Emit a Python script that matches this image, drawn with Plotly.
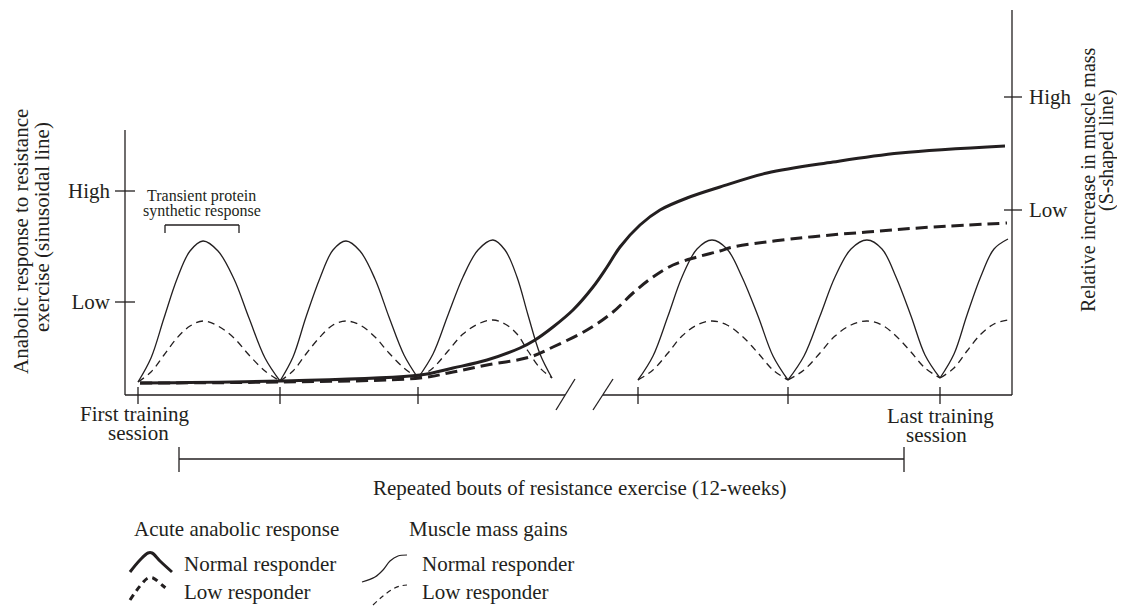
import plotly.graph_objects as go

# ---------------- data ----------------
# acute anabolic (sinusoidal) response; None separates the bouts
acute_x = [13, 26, 39, 52, 65, 78, 93, 109, 124, 140, 155, None,
           155, 168, 181, 195, 208, 221, 235, 250, 264, 279, 293, None,
           293, 308, 323, 338, 353, 368, 380, 392, 403, 415, 427, None,
           513, 528, 543, 557, 572, 587, 602, 617, 633, 648, 663, None,
           663, 679, 695, 710, 726, 742, 757, 771, 786, 800, 815, None,
           815, 829, 842, 856, 869, 883]
acute_normal = [13, 37, 77, 116, 144, 154, 144, 116, 77, 37, 14, None,
                14, 38, 78, 117, 145, 154, 144, 116, 78, 40, 17, None,
                17, 41, 80, 118, 145, 155, 145, 118, 80, 41, 17, None,
                15, 39, 79, 118, 146, 155, 146, 118, 79, 39, 15, None,
                15, 39, 79, 118, 146, 155, 146, 118, 79, 40, 17, None,
                17, 41, 80, 119, 146, 156]
acute_low = [13, 23, 40, 57, 69, 74, 69, 57, 40, 24, 14, None,
             14, 24, 41, 58, 70, 74, 70, 58, 42, 27, 17, None,
             17, 27, 44, 61, 71, 75, 71, 61, 44, 27, 17, None,
             15, 25, 42, 59, 70, 74, 70, 59, 42, 25, 15, None,
             15, 25, 42, 59, 70, 74, 70, 59, 43, 27, 17, None,
             17, 27, 44, 61, 71, 75]

# muscle mass gains (S-shaped)
mass_normal_x = [15, 155, 295, 328, 362, 395, 410, 428, 448, 468, 482, 495,
                 515, 535, 562, 595, 642, 708, 775, 880]
mass_normal_y = [12, 14, 20, 27, 35, 47, 55, 68, 85, 108, 128, 148,
                 170, 185, 197, 208, 222, 233, 242, 249]
mass_low_x = [15, 155, 295, 328, 362, 405, 428, 462, 488, 508, 528, 548,
              572, 595, 608, 675, 742, 808, 882]
mass_low_y = [12, 13, 17, 23, 30, 38, 48, 65, 83, 102, 118, 130,
              138, 144, 148, 157, 163, 168, 172]

session_x = [13, 155, 293, 513, 663, 815]
left_ticks = [204, 93]
left_labels = ["High", "Low"]
right_ticks = [298, 185]
right_labels = ["High", "Low"]

# legend glyphs (local units)
leg_bump_x = [10, 20, 28, 32, 40, 52]
leg_bump_y = [35, 47, 54, 54, 46, 35]
leg_dbump_x = [10, 20, 28, 33, 42, 48]
leg_dbump_y = [7, 21, 29, 29, 22, 17]
leg_s_x = [242, 255, 263, 270, 278, 287]
leg_s_y = [25, 30, 37, 46, 51, 52]
leg_ds_x = [253, 263, 273, 280, 287]
leg_ds_y = [2, 11, 18, 21, 22]

# ---------------- layout helpers ----------------
OX, OY = 8, 8            # page body margin of the html page
W, H = 1125 - OX, 607 - OY
PL, PR, PT, PB = 125, 1012, 10, 395
INK = "#231f20"
FONT = "Liberation Serif"


def fx(p):
    return (p - OX) / W


def fy(p):
    return 1 - (p - OY) / H


def dx(v):  # data x -> pixel
    return PL + v


fig = go.Figure()

thin = dict(color=INK, width=1.3, shape="spline", smoothing=1.0)
thick = dict(color=INK, width=3, shape="spline", smoothing=1.0)

fig.add_trace(go.Scatter(x=acute_x, y=acute_normal, mode="lines", line=thin,
                         xaxis="x", yaxis="y", hoverinfo="skip"))
fig.add_trace(go.Scatter(x=acute_x, y=acute_low, mode="lines",
                         line=dict(thin, dash="7px,5px"),
                         xaxis="x", yaxis="y", hoverinfo="skip"))
fig.add_trace(go.Scatter(x=mass_normal_x, y=mass_normal_y, mode="lines", line=thick,
                         xaxis="x", yaxis="y2", hoverinfo="skip"))
fig.add_trace(go.Scatter(x=mass_low_x, y=mass_low_y, mode="lines",
                         line=dict(thick, dash="12px,6px"),
                         xaxis="x", yaxis="y2", hoverinfo="skip"))

# legend glyphs
fig.add_trace(go.Scatter(x=leg_bump_x, y=leg_bump_y, mode="lines",
                         line=dict(color=INK, width=3, shape="spline"),
                         xaxis="x2", yaxis="y3", hoverinfo="skip"))
fig.add_trace(go.Scatter(x=leg_dbump_x, y=leg_dbump_y, mode="lines",
                         line=dict(color=INK, width=3, shape="spline", dash="6px,5px"),
                         xaxis="x2", yaxis="y3", hoverinfo="skip"))
fig.add_trace(go.Scatter(x=leg_s_x, y=leg_s_y, mode="lines",
                         line=dict(color=INK, width=1.2, shape="spline"),
                         xaxis="x2", yaxis="y3", hoverinfo="skip"))
fig.add_trace(go.Scatter(x=leg_ds_x, y=leg_ds_y, mode="lines",
                         line=dict(color=INK, width=1.2, shape="spline", dash="5px,4px"),
                         xaxis="x2", yaxis="y3", hoverinfo="skip"))

shapes = []


def seg(x0, y0, x1, y1, w=1.3):
    shapes.append(dict(type="line", xref="paper", yref="paper",
                       x0=fx(x0), y0=fy(y0), x1=fx(x1), y1=fy(y1),
                       line=dict(color=INK, width=w)))


# axes lines
seg(PL, 130, PL, PB)
seg(PR, PT, PR, PB)
seg(PL, PB, 565, PB)
seg(603, PB, PR, PB)
# break marks
seg(556, 410, 575, 379)
seg(593, 410, 613, 379)
# left/right crossing ticks
for t in left_ticks:
    seg(115, PB - t, 135, PB - t)
for t in right_ticks:
    seg(1004, PB - t, 1022, PB - t)
# bottom ticks
for s in session_x:
    seg(dx(s), 387, dx(s), 404)
# transient bracket
seg(165, 225, 239, 225)
seg(165, 225, 165, 233)
seg(239, 225, 239, 233)
# repeated bouts bracket
seg(179, 459, 904, 459)
seg(179, 447, 179, 472)
seg(904, 447, 904, 472)

ann = []


def text(t, x, y, size=21, xanchor="center", angle=0):
    ann.append(dict(text=t, x=fx(x), y=fy(y), xref="paper", yref="paper",
                    showarrow=False, xanchor=xanchor, yanchor="middle",
                    textangle=angle, font=dict(family=FONT, size=size, color=INK)))


text("First training", 135, 414)
text("session", 138, 433)
text("Last training", 940, 416)
text("session", 936, 435)
text("Repeated bouts of resistance exercise (12-weeks)", 579, 488)
text("Transient protein", 202, 196, size=16)
text("synthetic response", 202, 211, size=16)
text("Anabolic response to resistance", 21, 242, angle=-90)
text("exercise (sinusoidal line)", 42, 227, angle=-90)
text("Relative increase in muscle mass", 1088, 180, size=20, angle=-90)
text("(S-shaped line)", 1107, 150, size=20, angle=-90)
text("Acute anabolic response", 132, 529, xanchor="left")
text("Normal responder", 182, 564, xanchor="left")
text("Low responder", 182, 592, xanchor="left")
text("Muscle mass gains", 407, 529, xanchor="left")
text("Normal responder", 420, 564, xanchor="left")
text("Low responder", 420, 592, xanchor="left")

tickfont = dict(family=FONT, size=21, color=INK)
fig.update_layout(
    width=W, height=H,
    margin=dict(l=0, r=0, t=0, b=0),
    paper_bgcolor="white", plot_bgcolor="rgba(0,0,0,0)",
    showlegend=False,
    xaxis=dict(domain=[fx(PL), fx(PR)], range=[0, PR - PL], visible=False, fixedrange=True),
    yaxis=dict(domain=[fy(PB), fy(PT)], range=[0, PB - PT], showline=False, showgrid=False,
               zeroline=False, tickvals=left_ticks, ticktext=left_labels, ticks="",
               ticklabelstandoff=14, tickfont=tickfont, fixedrange=True),
    yaxis2=dict(overlaying="y", side="right", range=[0, PB - PT], showline=False,
                showgrid=False, zeroline=False, tickvals=right_ticks, ticktext=right_labels,
                ticks="", ticklabelstandoff=16, tickfont=tickfont, fixedrange=True),
    xaxis2=dict(domain=[fx(120), fx(420)], range=[0, 300], visible=False, anchor="y3"),
    yaxis3=dict(domain=[0, fy(547)], range=[0, 60], visible=False, anchor="x2"),
    shapes=shapes,
    annotations=ann,
)

fig.write_html("out.html")
